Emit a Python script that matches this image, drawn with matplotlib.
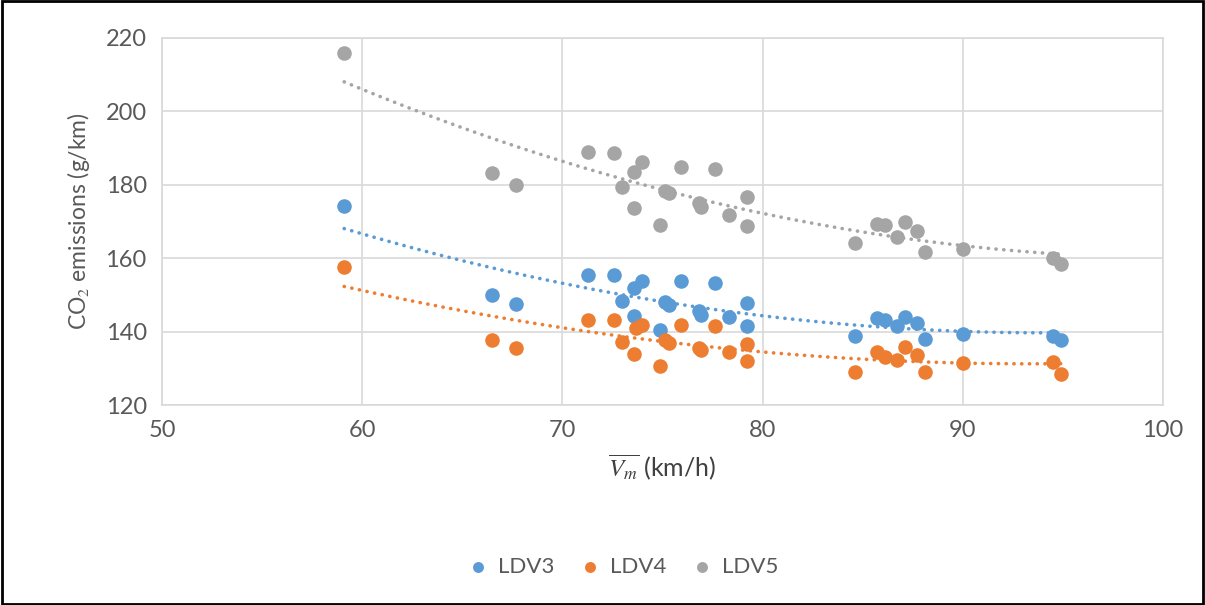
import numpy as np
import matplotlib.pyplot as plt
from matplotlib.patches import Rectangle

plt.rcParams['font.family'] = ['Lato', 'DejaVu Sans']
plt.rcParams['mathtext.fontset'] = 'stix'

# mean speed (km/h) per trip, shared by all three vehicles
speed = [59.1, 66.5, 67.7, 71.3, 72.6, 73.0, 73.6, 74.0, 73.6, 74.9,
         75.1, 75.3, 75.9, 76.8, 76.9, 77.6, 78.3, 79.2, 79.2, 84.6,
         85.7, 86.1, 86.7, 87.1, 87.7, 88.1, 90.0, 94.5, 94.9]
speed_ldv4 = [59.1, 66.5, 67.7, 71.3, 72.6, 73.0, 73.6, 73.7, 74.0, 74.9,
              75.1, 75.3, 75.9, 76.8, 76.9, 77.6, 78.3, 79.2, 79.2, 84.6,
              85.7, 86.1, 86.7, 87.1, 87.7, 88.1, 90.0, 94.5, 94.9]

ldv3 = [174.2, 150.0, 147.5, 155.4, 155.4, 148.3, 151.9, 153.8, 144.3, 140.4,
        148.1, 147.2, 153.8, 145.6, 144.5, 153.2, 144.0, 147.8, 141.5, 138.8,
        143.7, 143.2, 141.5, 144.0, 142.3, 138.0, 139.3, 138.8, 137.7]
ldv4 = [157.6, 137.7, 135.5, 143.2, 143.2, 137.2, 133.9, 141.0, 141.8, 130.6,
        137.7, 136.9, 141.8, 135.5, 135.0, 141.5, 134.4, 136.6, 132.0, 129.0,
        134.4, 133.0, 132.3, 135.8, 133.6, 129.0, 131.4, 131.7, 128.4]
ldv5 = [215.9, 183.2, 180.0, 189.0, 188.7, 179.4, 183.5, 186.2, 173.7, 169.0,
        178.3, 177.8, 184.9, 175.0, 174.0, 184.3, 171.8, 176.7, 168.8, 164.1,
        169.3, 169.0, 165.8, 169.9, 167.4, 161.7, 162.5, 160.0, 158.4]

series = [("LDV3", speed, ldv3, "#5B9BD5"),
          ("LDV4", speed_ldv4, ldv4, "#ED7D31"),
          ("LDV5", speed, ldv5, "#A5A5A5")]

fig = plt.figure(figsize=(12.05, 6.05), dpi=100)
ax = fig.add_axes([162 / 1205, 1 - 405 / 605, (1163 - 162) / 1205, (405 - 38) / 605])

for name, xs, ys, col in series:
    ax.scatter(xs, ys, s=110, color=col, label=name, zorder=3, linewidths=0)
    # polynomial trendline like the spreadsheet one
    coef = np.polyfit(xs, ys, 2)
    xx = np.linspace(min(xs), max(xs), 200)
    ax.plot(xx, np.polyval(coef, xx), color=col, lw=2.6,
            linestyle=(0, (0.05, 2.1)), dash_capstyle='round', zorder=2)

ax.set_xlim(50, 100)
ax.set_ylim(120, 220)
ax.set_xticks(range(50, 101, 10))
ax.set_yticks(range(120, 221, 20))
ax.grid(True, color="#D9D9D9", lw=1.2)
ax.set_axisbelow(True)
for sp in ax.spines.values():
    sp.set_color("#D9D9D9")
    sp.set_linewidth(1.2)
ax.tick_params(length=0, labelsize=17, colors="#595959", pad=11)

ax.set_ylabel("CO$_2$ emissions (g/km)", fontsize=16.5, color="#595959", labelpad=10)
ax.set_xlabel(r"$\overline{V_m}$ (km/h)", fontsize=18, color="#404040", labelpad=8)

leg = ax.legend(loc="upper center", bbox_to_anchor=(0.455, -0.36), ncol=3,
                frameon=False, fontsize=16, handletextpad=-0.1, columnspacing=0.6,
                markerscale=0.75)
for t in leg.get_texts():
    t.set_color("#595959")

fig.patches.append(Rectangle((0.002, 0.002), 0.996, 0.996, transform=fig.transFigure,
                             fill=False, edgecolor="black", lw=2))

fig.savefig("out.png", dpi=100)
